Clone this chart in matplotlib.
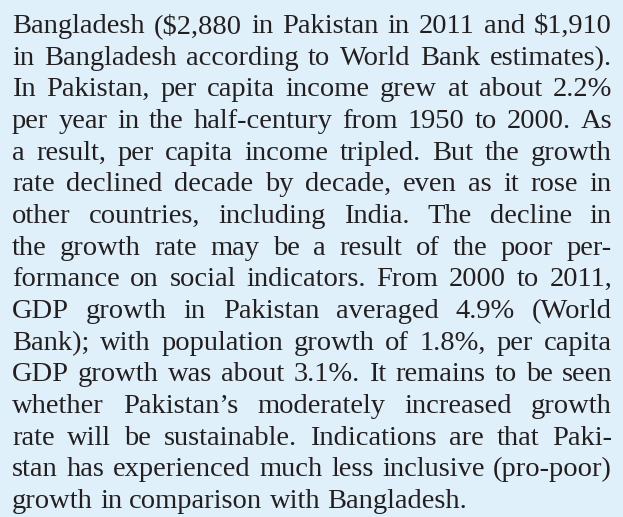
import matplotlib
matplotlib.use("Agg")
import matplotlib.pyplot as plt

# paragraph text, one entry per printed line
lines = [
    "Bangladesh ($2,880 in Pakistan in 2011 and $1,910",
    "in Bangladesh according to World Bank estimates).",
    "In Pakistan, per capita income grew at about 2.2%",
    "per year in the half-century from 1950 to 2000. As",
    "a result, per capita income tripled. But the growth",
    "rate declined decade by decade, even as it rose in",
    "other countries, including India. The decline in",
    "the growth rate may be a result of the poor per-",
    "formance on social indicators. From 2000 to 2011,",
    "GDP growth in Pakistan averaged 4.9% (World",
    "Bank); with population growth of 1.8%, per capita",
    "GDP growth was about 3.1%. It remains to be seen",
    "whether Pakistan\u2019s moderately increased growth",
    "rate will be sustainable. Indications are that Paki-",
    "stan has experienced much less inclusive (pro-poor)",
    "growth in comparison with Bangladesh.",
]

W, H = 623, 517
BG = "#e0f0fb"
INK = "#231f20"
LEFT, RIGHT = 12, 612
TOP, STEP = 33, 31.67
FS = 20.5
FONT = "Liberation Serif"

fig = plt.figure(figsize=(W / 100, H / 100), dpi=100, facecolor=BG)
ax = fig.add_axes([0, 0, 1, 1])
ax.set_xlim(0, W)
ax.set_ylim(H, 0)
ax.axis("off")
ax.set_facecolor(BG)

renderer = fig.canvas.get_renderer()


def width_of(s):
    t = ax.text(0, 0, s, fontsize=FS, family=FONT)
    w = t.get_window_extent(renderer).width
    t.remove()
    return w


space = width_of("a a") - width_of("aa")

for i, line in enumerate(lines):
    y = TOP + i * STEP
    words = line.split(" ")
    widths = [width_of(w) for w in words]
    last = i == len(lines) - 1
    if last or len(words) < 2:
        gap = space
    else:
        gap = (RIGHT - LEFT - sum(widths)) / (len(words) - 1)
    x = LEFT
    for w, wd in zip(words, widths):
        ax.text(x, y, w, fontsize=FS, family=FONT, color=INK,
                ha="left", va="baseline")
        x += wd + gap

fig.savefig("out.png", dpi=100, facecolor=BG)
